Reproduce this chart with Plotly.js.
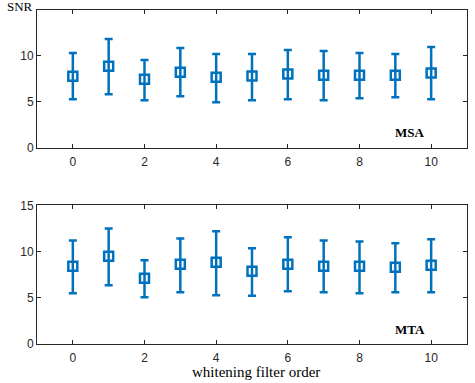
<!DOCTYPE html>
<html>
<head>
<meta charset="utf-8">
<script src="https://cdn.plot.ly/plotly-3.0.1.min.js"></script>
<style>html,body{margin:0;padding:0;background:#fff;}#chart{width:475px;height:383px;}</style>
</head>
<body>
<div id="chart"></div>
<script>
const orders = [0, 1, 2, 3, 4, 5, 6, 7, 8, 9, 10];
const msaMean  = [7.79, 8.88, 7.46, 8.23, 7.68, 7.83, 8.04, 7.90, 7.90, 7.90, 8.15];
const msaUpper = [10.33, 11.85, 9.57, 10.87, 10.22, 10.22, 10.65, 10.54, 10.33, 10.22, 10.98];
const msaLower = [5.29, 5.83, 5.18, 5.62, 4.96, 5.18, 5.29, 5.18, 5.40, 5.51, 5.29];
const mtaMean  = [8.41, 9.49, 7.12, 8.63, 8.85, 7.87, 8.63, 8.41, 8.41, 8.30, 8.52];
const mtaUpper = [11.20, 12.50, 9.06, 11.43, 12.19, 10.36, 11.54, 11.20, 11.10, 10.90, 11.33];
const mtaLower = [5.50, 6.36, 5.07, 5.61, 5.28, 5.21, 5.72, 5.61, 5.50, 5.61, 5.61];
const xTicks = [0, 2, 4, 6, 8, 10];

const blue = '#0072BD';
const axColor = '#262626';

function errTrace(mean, up, lo, xa, ya) {
  return {
    x: orders, y: mean, xaxis: xa, yaxis: ya, type: 'scatter', mode: 'markers',
    marker: {symbol: 'square-open', size: 9, color: blue, line: {width: 2.5, color: blue}},
    error_y: {type: 'data', symmetric: false,
      array: up.map((v, i) => v - mean[i]),
      arrayminus: lo.map((v, i) => mean[i] - v),
      color: blue, thickness: 2.5, width: 4},
    showlegend: false, hoverinfo: 'skip'
  };
}

const data = [
  errTrace(msaMean, msaUpper, msaLower, 'x', 'y'),
  errTrace(mtaMean, mtaUpper, mtaLower, 'x2', 'y2')
];

const tickFont = {family: 'Liberation Sans, Arial, sans-serif', size: 12, color: axColor};
function xax(anchor) {
  return {anchor: anchor, range: [-1, 11], tickvals: xTicks, ticktext: xTicks.map(String),
    ticks: 'inside', ticklen: 4, tickcolor: axColor, tickwidth: 1, ticklabelstandoff: 3,
    showline: true, linecolor: axColor, linewidth: 1, mirror: 'ticks',
    showgrid: false, zeroline: false, tickfont: tickFont};
}
function yax(anchor, domain, vals) {
  return {anchor: anchor, domain: domain, range: [0, 15], tickvals: vals, ticktext: vals.map(String),
    ticks: 'inside', ticklen: 4, tickcolor: axColor, tickwidth: 1,
    showline: true, linecolor: axColor, linewidth: 1, mirror: 'ticks',
    showgrid: false, zeroline: false, tickfont: tickFont};
}

const serif = 'Liberation Serif, Times New Roman, serif';
const layout = {
  width: 475, height: 383,
  margin: {l: 37, r: 8, t: 10, b: 39},
  paper_bgcolor: '#fff', plot_bgcolor: '#fff',
  showlegend: false,
  xaxis: xax('y'),
  yaxis: yax('x', [0.587, 1], [0, 5, 10]),
  xaxis2: xax('y2'),
  yaxis2: yax('x2', [0, 0.415], [0, 5, 10, 15]),
  annotations: [
    {text: 'SNR', xref: 'paper', yref: 'paper', x: -0.075, y: 1.01, xanchor: 'left', yanchor: 'middle',
     showarrow: false, font: {family: serif, size: 13, color: '#000'}},
    {text: 'whitening filter order', xref: 'paper', yref: 'paper', x: 0.51, y: -0.083,
     xanchor: 'center', yanchor: 'middle', showarrow: false,
     font: {family: serif, size: 15, color: '#000'}},
    {text: '<b>MSA</b>', xref: 'x', yref: 'y', x: 9.41, y: 1.68, showarrow: false,
     font: {family: serif, size: 13, color: '#000'}},
    {text: '<b>MTA</b>', xref: 'x2', yref: 'y2', x: 9.42, y: 1.54, showarrow: false,
     font: {family: serif, size: 13, color: '#000'}}
  ]
};

Plotly.newPlot('chart', data, layout, {displayModeBar: false, staticPlot: true});
</script>
</body>
</html>
